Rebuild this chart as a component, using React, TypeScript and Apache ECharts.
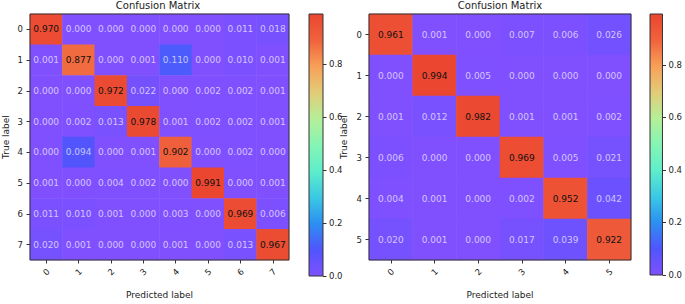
import React, { useEffect, useRef } from "react";
import * as echarts from "echarts";

const leftClasses = ["0", "1", "2", "3", "4", "5", "6", "7"];
const rightClasses = ["0", "1", "2", "3", "4", "5"];

const leftMatrix: number[][] = [
  [0.970, 0.000, 0.000, 0.000, 0.000, 0.000, 0.011, 0.018],
  [0.001, 0.877, 0.000, 0.001, 0.110, 0.000, 0.010, 0.001],
  [0.000, 0.000, 0.972, 0.022, 0.000, 0.002, 0.002, 0.001],
  [0.000, 0.002, 0.013, 0.978, 0.001, 0.002, 0.002, 0.001],
  [0.000, 0.094, 0.000, 0.001, 0.902, 0.000, 0.002, 0.000],
  [0.001, 0.000, 0.004, 0.002, 0.000, 0.991, 0.000, 0.001],
  [0.011, 0.010, 0.001, 0.000, 0.003, 0.000, 0.969, 0.006],
  [0.020, 0.001, 0.000, 0.000, 0.001, 0.000, 0.013, 0.967],
];

const rightMatrix: number[][] = [
  [0.961, 0.001, 0.000, 0.007, 0.006, 0.026],
  [0.000, 0.994, 0.005, 0.000, 0.000, 0.000],
  [0.001, 0.012, 0.982, 0.001, 0.001, 0.002],
  [0.006, 0.000, 0.000, 0.969, 0.005, 0.021],
  [0.004, 0.001, 0.000, 0.002, 0.952, 0.042],
  [0.020, 0.001, 0.000, 0.017, 0.039, 0.922],
];

const colorbarTicks = [0, 0.2, 0.4, 0.6, 0.8];

const cmap = [
  "#8050ff",
  "#5055fc",
  "#2c8ff2",
  "#3ac8e4",
  "#5eeecb",
  "#85f5b4",
  "#b5ef98",
  "#e2cc78",
  "#f8a058",
  "#f0623c",
  "#ea4630",
];

const FONT = "DejaVu Sans";
const TEXT = "#222";
const EDGE = "#333";

function matMax(m: number[][]) {
  let mx = 0;
  m.forEach((r) => r.forEach((v) => (mx = Math.max(mx, v))));
  return mx;
}

function heatData(m: number[][]) {
  const mx = matMax(m);
  const out: any[] = [];
  m.forEach((row, y) =>
    row.forEach((v, x) => {
      out.push({
        value: [x, y, v],
        label: { color: v > mx / 2 ? "#111" : "rgba(255,255,255,0.68)" },
      });
    })
  );
  return out;
}

function gradient() {
  return new echarts.graphic.LinearGradient(
    0,
    1,
    0,
    0,
    cmap.map((c, i) => ({ offset: i / (cmap.length - 1), color: c }))
  );
}

export default function App() {
  const ref = useRef<HTMLDivElement>(null);
  useEffect(() => {
    if (!ref.current) return;
    const chart = echarts.init(ref.current, undefined, { renderer: "svg" });
    const lMax = matMax(leftMatrix);
    const rMax = matMax(rightMatrix);

    const catX = (data: string[], gi: number) => ({
      type: "category",
      gridIndex: gi,
      data,
      name: "Predicted label",
      nameLocation: "middle",
      nameGap: 30,
      nameTextStyle: { fontFamily: FONT, fontSize: 9, color: TEXT },
      axisLine: { show: false },
      axisTick: { show: true, alignWithLabel: true, length: 3.5, lineStyle: { color: EDGE } },
      axisLabel: {
        rotate: 45,
        align: "center",
        verticalAlign: "middle",
        margin: 12,
        fontFamily: FONT,
        fontSize: 8.5,
        color: TEXT,
      },
      splitLine: { show: false },
    });
    const catY = (data: string[], gi: number, gap: number) => ({
      type: "category",
      gridIndex: gi,
      data,
      inverse: true,
      name: "True label",
      nameLocation: "middle",
      nameGap: gap,
      nameTextStyle: { fontFamily: FONT, fontSize: 9, color: TEXT },
      axisLine: { show: false },
      axisTick: { show: true, alignWithLabel: true, length: 3.5, lineStyle: { color: EDGE } },
      axisLabel: { margin: 7, fontFamily: FONT, fontSize: 8.5, color: TEXT },
      splitLine: { show: false },
    });
    const cbX = (gi: number) => ({
      type: "category",
      gridIndex: gi,
      data: ["cb"],
      show: false,
    });
    const cbY = (gi: number, mx: number) => ({
      type: "value",
      gridIndex: gi,
      position: "right",
      min: 0,
      max: mx,
      axisLine: { show: false },
      splitLine: { show: false },
      axisTick: {
        show: true,
        length: 3.5,
        customValues: colorbarTicks,
        lineStyle: { color: EDGE },
      },
      axisLabel: {
        margin: 6,
        customValues: colorbarTicks,
        formatter: (v: number) => v.toFixed(1),
        fontFamily: FONT,
        fontSize: 8.5,
        color: TEXT,
      },
    });

    const labelCfg = {
      show: true,
      fontFamily: FONT,
      fontSize: 9,
      formatter: (p: any) => p.value[2].toFixed(3),
    };

    chart.setOption({
      animation: false,
      backgroundColor: "#fff",
      title: [
        {
          text: "Confusion Matrix",
          left: 158,
          textAlign: "center",
          top: 0,
          padding: 0,
          textStyle: { fontFamily: FONT, fontSize: 10, fontWeight: "normal", color: TEXT },
        },
        {
          text: "Confusion Matrix",
          left: 500,
          textAlign: "center",
          top: 0,
          padding: 0,
          textStyle: { fontFamily: FONT, fontSize: 10, fontWeight: "normal", color: TEXT },
        },
      ],
      grid: [
        { left: 27, top: 14, width: 262, height: 262, show: true, borderColor: EDGE, borderWidth: 1, backgroundColor: "transparent", z: 10 },
        { left: 369, top: 14, width: 262, height: 261, show: true, borderColor: EDGE, borderWidth: 1, backgroundColor: "transparent", z: 10 },
        { left: 309, top: 14, width: 14, height: 262, show: true, borderColor: EDGE, borderWidth: 1, backgroundColor: "transparent", z: 10 },
        { left: 650, top: 14, width: 13, height: 261, show: true, borderColor: EDGE, borderWidth: 1, backgroundColor: "transparent", z: 10 },
      ],
      xAxis: [catX(leftClasses, 0), catX(rightClasses, 1), cbX(2), cbX(3)],
      yAxis: [catY(leftClasses, 0, 20), catY(rightClasses, 1, 21), cbY(2, lMax), cbY(3, rMax)],
      visualMap: [
        { type: "continuous", show: false, seriesIndex: 0, dimension: 2, min: 0, max: lMax, inRange: { color: cmap } },
        { type: "continuous", show: false, seriesIndex: 1, dimension: 2, min: 0, max: rMax, inRange: { color: cmap } },
      ],
      series: [
        {
          type: "heatmap",
          xAxisIndex: 0,
          yAxisIndex: 0,
          data: heatData(leftMatrix),
          label: labelCfg,
          itemStyle: { borderWidth: 0 },
          emphasis: { disabled: true },
        },
        {
          type: "heatmap",
          xAxisIndex: 1,
          yAxisIndex: 1,
          data: heatData(rightMatrix),
          label: labelCfg,
          itemStyle: { borderWidth: 0 },
          emphasis: { disabled: true },
        },
        {
          type: "bar",
          xAxisIndex: 2,
          yAxisIndex: 2,
          barWidth: "100%",
          data: [lMax],
          itemStyle: { color: gradient() },
          silent: true,
        },
        {
          type: "bar",
          xAxisIndex: 3,
          yAxisIndex: 3,
          barWidth: "100%",
          data: [rMax],
          itemStyle: { color: gradient() },
          silent: true,
        },
      ],
    });
    return () => chart.dispose();
  }, []);
  return (
    <div
      ref={ref}
      style={{ position: "fixed", left: 0, top: 0, width: 685, height: 304 }}
    />
  );
}
